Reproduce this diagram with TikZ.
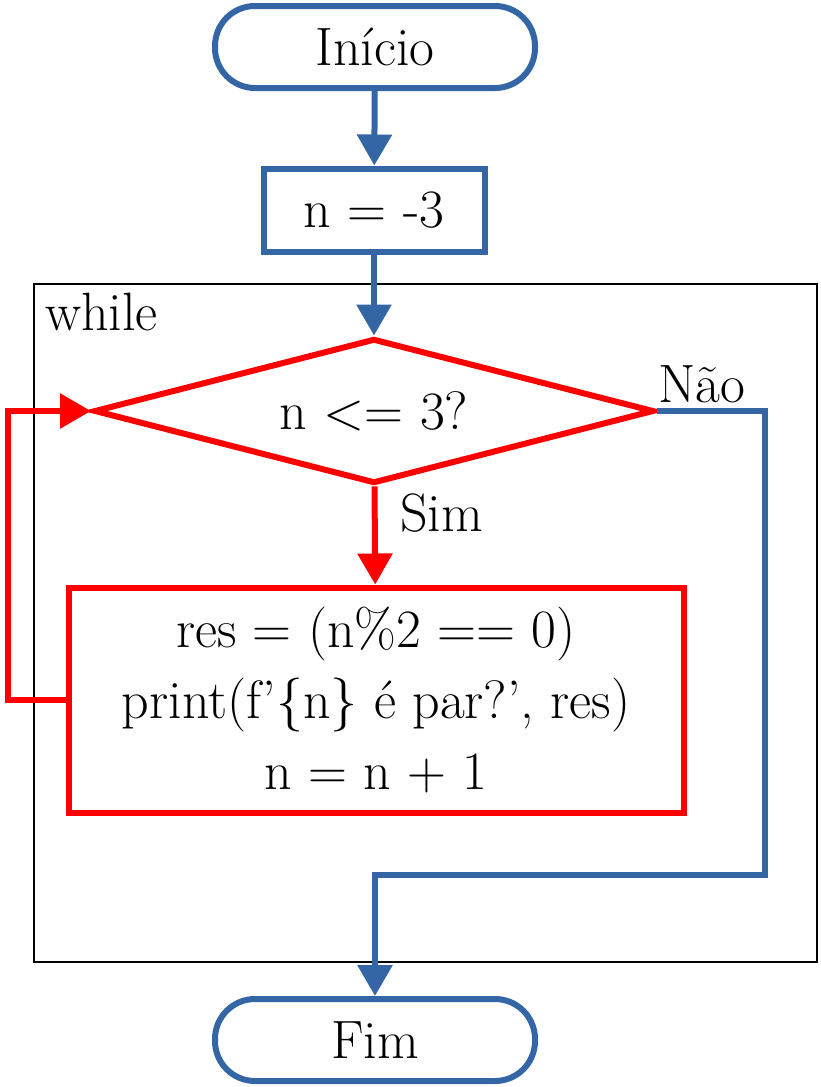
\documentclass[tikz,border=0pt]{standalone}
\usetikzlibrary{shapes.geometric,arrows.meta}
\definecolor{fblue}{RGB}{52,101,164}
\definecolor{fred}{RGB}{255,0,0}
\begin{document}
\begin{tikzpicture}[x=1pt,y=-1pt,
  font=\fontsize{54}{71}\selectfont,
  term/.style={draw=fblue, line width=6pt, rounded corners=40pt, minimum width=320pt, minimum height=82pt, inner sep=0pt},
  proc/.style={draw=fblue, line width=6pt, minimum width=221pt, minimum height=83pt, inner sep=0pt},
  dec/.style={diamond, draw=fred, line width=6pt, minimum width=560pt, minimum height=145pt, inner sep=0pt, shape aspect=3.8},
  body/.style={draw=fred, line width=6pt, minimum width=615pt, minimum height=225pt, align=center, inner sep=0pt},
  frame/.style={draw=black, line width=2pt, minimum width=783pt, minimum height=678pt, inner sep=0pt},
  lbl/.style={anchor=base west, inner sep=0pt},
  arr/.style={line width=6pt, -{Triangle[length=31pt,width=34pt]}},
  barr/.style={arr, draw=fblue},
  rarr/.style={arr, draw=fred}]
\useasboundingbox (0,0) rectangle (820,1087);
\node[frame] (loopbox) at (425.5,623) {};
\node[lbl] (wl) at (45,330) {while};
\node[term] (ini) at (375,47) {Início};
\node[proc] (n3) at (374,210) {n = -3};
\node[dec] (cond) at (374,411) {n <= 3?};
\node[body] (body) at (376,700) {res = (n\%2 == 0)\\print(f’\{n\} é par?’, res)\\n = n + 1};
\node[term] (fim) at (375,1040) {Fim};
\node[lbl] (nao) at (658,402) {Não};
\node[lbl] (sim) at (400,531) {Sim};
\coordinate (c1) at (765,875);
\draw[barr] (ini) -- (n3);
\draw[barr] (n3) -- (cond);
\draw[rarr] (cond) -- (body);
\draw[rarr] (body.west) -- ++(-58,0) |- (cond.west);
\draw[barr] (cond.east) -| (c1) -| (fim.north);
\end{tikzpicture}
\end{document}
